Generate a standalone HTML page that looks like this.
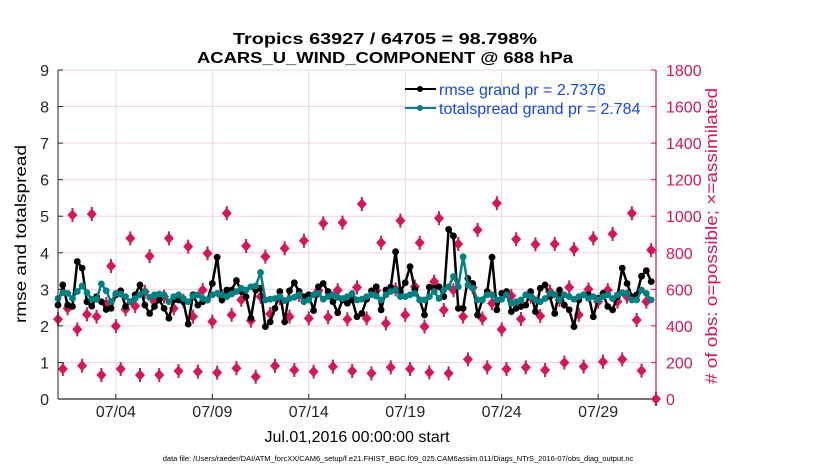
<!DOCTYPE html>
<html><head><meta charset="utf-8"><style>
body{margin:0;background:#fff;width:830px;height:470px;overflow:hidden;font-family:"Liberation Sans",Arial,sans-serif}
svg text{font-family:"Liberation Sans",Arial,sans-serif}
</style></head><body>
<svg id="chart" width="830" height="470" viewBox="0 0 830 470" xmlns="http://www.w3.org/2000/svg">
<g id="grid"></g>
<g id="marks"></g>
<g id="axes"></g>
<text x="385" y="44" font-size="16" font-weight="bold" text-anchor="middle" textLength="304" lengthAdjust="spacingAndGlyphs">Tropics 63927 / 64705 = 98.798%</text>
<text x="385" y="63" font-size="16" font-weight="bold" text-anchor="middle" textLength="376" lengthAdjust="spacingAndGlyphs">ACARS_U_WIND_COMPONENT @ 688 hPa</text>
<text transform="translate(26,234) rotate(-90)" font-size="16" text-anchor="middle" textLength="178" lengthAdjust="spacingAndGlyphs">rmse and totalspread</text>
<text transform="translate(717,236) rotate(-90)" font-size="17" fill="#d6155b" text-anchor="middle" textLength="296" lengthAdjust="spacingAndGlyphs"># of obs: o=possible; ×=assimilated</text>
<text x="357" y="442" font-size="16" text-anchor="middle">Jul.01,2016 00:00:00 start</text>
<text x="398" y="461" font-size="7.5" text-anchor="middle">data file: /Users/raeder/DAI/ATM_forcXX/CAM6_setup/f.e21.FHIST_BGC.f09_025.CAM6assim.011/Diags_NTrS_2016-07/obs_diag_output.nc</text>
<g>
<line x1="405" y1="89" x2="436" y2="89" stroke="#000" stroke-width="2"/><circle cx="420" cy="89" r="3" fill="#000"/>
<text x="439" y="95" font-size="16" fill="#1548f0">rmse grand pr = 2.7376</text>
<line x1="405" y1="108" x2="436" y2="108" stroke="#008080" stroke-width="2"/><circle cx="420" cy="108" r="3" fill="#008080"/>
<text x="439" y="114" font-size="16" fill="#1548f0">totalspread grand pr = 2.784</text>
</g>
</svg>
<script>
const rmse=[2.57,3.12,2.57,2.53,3.76,3.58,2.66,2.54,2.80,2.66,2.45,2.48,2.85,2.96,2.53,2.66,2.85,3.12,2.57,2.34,2.53,2.71,2.48,2.21,2.71,2.71,2.66,2.05,2.85,2.57,2.66,2.71,3.16,3.88,2.71,2.98,2.98,3.24,2.94,2.80,2.21,2.98,3.03,1.98,
2.11,2.48,2.94,2.11,2.96,3.18,2.94,2.80,2.85,2.42,3.07,3.16,2.94,2.66,2.36,2.71,2.62,2.71,2.25,2.34,2.73,2.96,3.07,2.44,2.98,3.06,4.03,2.94,3.18,3.62,2.99,2.71,2.30,3.06,3.03,3.07,2.80,4.64,4.46,2.48,2.48,
3.30,3.16,2.30,2.71,2.94,3.88,2.44,2.89,2.94,2.39,2.48,2.53,2.57,2.94,2.39,3.03,3.12,2.80,2.34,2.98,2.57,2.44,1.98,2.71,2.85,2.85,2.25,2.75,2.89,2.53,2.44,2.80,3.58,3.16,2.80,2.85,3.36,3.51,3.21];
const spread=[2.75,2.91,2.89,2.75,2.94,3.09,2.91,2.73,2.73,3.15,2.96,2.66,2.89,2.87,2.80,2.66,2.75,2.85,2.94,2.78,2.85,2.87,2.85,2.66,2.80,2.85,2.75,2.66,2.82,2.85,2.75,2.71,2.85,2.89,2.85,2.80,2.87,2.94,3.03,2.98,3.07,3.09,3.46,2.71,
2.73,2.75,2.80,2.69,2.75,2.78,2.85,2.66,2.71,2.85,2.89,2.73,2.80,2.85,2.78,2.75,2.80,2.89,2.71,2.73,2.80,2.85,2.82,2.71,2.85,2.94,2.98,2.80,2.80,2.85,2.89,2.71,2.71,2.80,2.94,2.75,2.98,3.07,3.35,3.07,3.89,
3.12,3.03,2.71,2.71,2.85,2.85,2.71,2.73,2.85,2.62,2.66,2.71,2.85,2.80,2.71,2.66,2.75,2.89,2.85,2.71,2.85,2.80,2.73,2.80,2.85,2.75,2.80,2.71,2.80,2.85,2.75,2.85,2.91,2.89,2.71,2.71,2.98,2.89,2.71];
const nobs=[436,164,496,1007,381,182,463,1012,451,131,520,728,399,164,491,879,509,131,587,782,533,131,560,879,496,153,538,834,451,150,596,797,423,144,560,1016,460,168,542,837,429,122,560,779,
465,181,551,824,451,159,569,866,441,150,593,961,447,177,596,965,436,153,611,1067,441,140,593,855,414,173,600,976,460,164,615,855,396,146,642,989,487,140,596,848,451,
217,611,925,441,173,524,1071,381,164,564,874,438,173,560,846,454,159,587,848,542,199,611,819,460,177,600,879,533,204,596,903,533,217,560,1016,432,155,533,815,0];
const yTicks=[0,1,2,3,4,5,6,7,8,9];
const y2Ticks=[0,200,400,600,800,1000,1200,1400,1600,1800];
const xTickDays=[3,8,13,18,23,28];
const xTickLabels=["07/04","07/09","07/14","07/19","07/24","07/29"];
const stepDays=0.25;

const L=58,R=656,T=70,B=399,NS="http://www.w3.org/2000/svg";
const xs=d=>L+d*(R-L)/31;
const ys=v=>B-v*(B-T)/9;
const ys2=v=>B-v*(B-T)/1800;
function mk(parent,tag,attrs){const e=document.createElementNS(NS,tag);for(const k in attrs)e.setAttribute(k,attrs[k]);document.getElementById(parent).appendChild(e);return e;}
xTickDays.forEach(d=>{const e=mk('grid','line',{x1:xs(d),x2:xs(d),y1:T,y2:B,stroke:'#dcdcdc','stroke-width':1});

});
y2Ticks.forEach(v=>{if(v===0)return;const e=mk('grid','line',{x1:L,x2:R,y1:ys2(v),y2:ys2(v),stroke:'#f3d3df','stroke-width':1});

});
nobs.forEach((v,i)=>{const x=xs(i*stepDays),y=ys2(v);
const g=mk('marks','path',{d:`M${x} ${y-5.5}L${x+5} ${y}L${x} ${y+5.5}L${x-5} ${y}Z M${x-1} ${y-7}h2v14h-2Z`,fill:'#d6155b'});

});
function series(arr,color,name){
 const pts=arr.map((v,i)=>xs(i*stepDays)+','+ys(v)).join(' ');
 const p=mk('marks','polyline',{points:pts,fill:'none',stroke:color,'stroke-width':2.5,'stroke-linejoin':'round'});
 
 
 arr.forEach((v,i)=>{const c=mk('marks','circle',{cx:xs(i*stepDays),cy:ys(v),r:3.4,fill:color});
 
 });
}
series(rmse,'#000','rmse');
series(spread,'#008080','totalspread');
let a=mk('axes','line',{x1:L,x2:L,y1:T,y2:B,stroke:'#262626','stroke-width':1});


a=mk('axes','line',{x1:L,x2:R,y1:B,y2:B,stroke:'#262626','stroke-width':1.2});


a=mk('axes','line',{x1:R,x2:R,y1:T,y2:B,stroke:'#d6155b','stroke-width':1.2});


yTicks.forEach(v=>{const t=mk('axes','text',{x:L-9,y:ys(v)+6,'font-size':16,'text-anchor':'end',fill:'#262626'});t.textContent=v;


const k=mk('axes','line',{x1:L,x2:L+5,y1:ys(v),y2:ys(v),stroke:'#262626'});

});
y2Ticks.forEach(v=>{const t=mk('axes','text',{x:R+10,y:ys2(v)+6,'font-size':16,fill:'#d6155b'});t.textContent=v;


const k=mk('axes','line',{x1:R-5,x2:R,y1:ys2(v),y2:ys2(v),stroke:'#d6155b'});

});
xTickDays.forEach((d,i)=>{const t=mk('axes','text',{x:xs(d),y:417,'font-size':16,'text-anchor':'middle',fill:'#262626'});t.textContent=xTickLabels[i];


const k=mk('axes','line',{x1:xs(d),x2:xs(d),y1:B-5,y2:B,stroke:'#262626'});

});
</script>
</body></html>
